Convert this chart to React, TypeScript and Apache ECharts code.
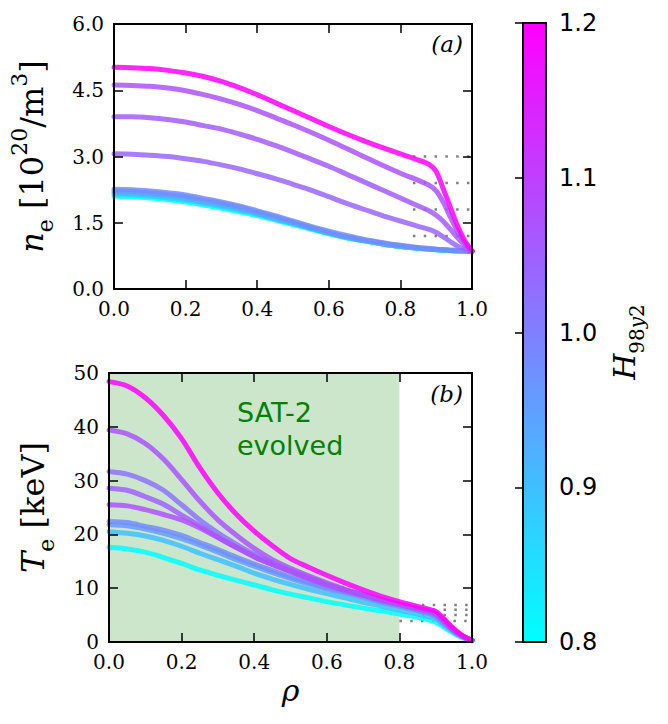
import React, { useEffect, useRef } from "react";
import * as echarts from "echarts";

// radial grid (rho) shared by all profiles
const RHO = [0, 0.05, 0.1, 0.15, 0.2, 0.25, 0.3, 0.35, 0.4, 0.45, 0.5, 0.55, 0.6, 0.65, 0.7, 0.75, 0.8, 0.85, 0.88, 0.9, 0.92, 0.94, 0.96, 0.98, 1.0];

// electron density profiles [10^20 / m^3]
const NE_A = [5.02, 5.01, 4.99, 4.95, 4.89, 4.81, 4.70, 4.56, 4.40, 4.22, 4.04, 3.86, 3.68, 3.51, 3.35, 3.20, 3.06, 2.92, 2.82, 2.66, 2.26, 1.84, 1.42, 1.09, 0.86];
const NE_B = [4.62, 4.61, 4.59, 4.55, 4.49, 4.40, 4.30, 4.18, 4.04, 3.88, 3.72, 3.55, 3.37, 3.18, 2.99, 2.80, 2.62, 2.46, 2.35, 2.22, 1.96, 1.62, 1.30, 1.04, 0.86];
const NE_C = [3.90, 3.90, 3.88, 3.84, 3.78, 3.70, 3.62, 3.51, 3.39, 3.25, 3.10, 2.94, 2.78, 2.60, 2.42, 2.24, 2.06, 1.88, 1.77, 1.67, 1.53, 1.35, 1.16, 0.99, 0.86];
const NE_D = [3.06, 3.05, 3.03, 3.00, 2.95, 2.89, 2.81, 2.72, 2.61, 2.50, 2.37, 2.24, 2.09, 1.94, 1.80, 1.66, 1.54, 1.42, 1.35, 1.28, 1.18, 1.07, 0.97, 0.90, 0.86];
const NE_E = [2.26, 2.25, 2.22, 2.18, 2.13, 2.05, 1.97, 1.88, 1.77, 1.66, 1.54, 1.42, 1.31, 1.21, 1.12, 1.05, 0.99, 0.94, 0.92, 0.90, 0.89, 0.88, 0.87, 0.86, 0.85];
const NE_F = [2.22, 2.21, 2.18, 2.14, 2.09, 2.01, 1.94, 1.85, 1.74, 1.63, 1.51, 1.39, 1.28, 1.18, 1.10, 1.04, 0.98, 0.93, 0.91, 0.90, 0.89, 0.88, 0.87, 0.86, 0.85];
const NE_G = [2.18, 2.17, 2.14, 2.10, 2.05, 1.97, 1.90, 1.81, 1.71, 1.60, 1.49, 1.38, 1.27, 1.17, 1.09, 1.02, 0.96, 0.92, 0.90, 0.89, 0.88, 0.87, 0.86, 0.86, 0.85];
const NE_H = [2.14, 2.13, 2.10, 2.06, 2.01, 1.94, 1.87, 1.78, 1.69, 1.58, 1.48, 1.37, 1.26, 1.16, 1.09, 1.02, 0.96, 0.92, 0.90, 0.89, 0.88, 0.87, 0.86, 0.86, 0.85];
const NE_I = [2.10, 2.09, 2.06, 2.02, 1.97, 1.90, 1.83, 1.75, 1.66, 1.56, 1.46, 1.35, 1.25, 1.16, 1.09, 1.02, 0.96, 0.92, 0.90, 0.89, 0.88, 0.87, 0.86, 0.86, 0.85];
const NE_PROFILES = [NE_A, NE_B, NE_C, NE_D, NE_E, NE_F, NE_G, NE_H, NE_I];
const NE_H98 = [1.2, 1.07, 1.055, 1.04, 0.98, 0.95, 0.92, 0.87, 0.8];

// electron temperature profiles [keV]
const TE_A = [48.4, 47.6, 45.4, 42.1, 37.8, 32.4, 27.7, 23.8, 20.6, 17.9, 15.5, 13.9, 12.4, 11.0, 9.7, 8.5, 7.5, 6.6, 6.1, 5.7, 4.5, 3.1, 1.9, 0.9, 0.3];
const TE_B = [39.4, 38.7, 36.9, 34.0, 30.2, 26.2, 22.7, 19.9, 17.4, 15.3, 13.7, 12.3, 11.0, 9.8, 8.8, 7.9, 7.0, 6.2, 5.8, 5.3, 4.2, 2.9, 1.7, 0.9, 0.3];
const TE_C = [31.7, 31.2, 30.0, 28.2, 25.5, 22.7, 20.3, 18.2, 16.3, 14.7, 13.3, 12.0, 10.7, 9.7, 8.8, 7.8, 7.0, 6.2, 5.8, 5.2, 4.1, 2.8, 1.7, 0.9, 0.3];
const TE_D = [28.6, 28.2, 27.0, 25.6, 23.6, 21.6, 19.5, 17.6, 15.8, 14.4, 13.1, 11.8, 10.6, 9.6, 8.7, 7.8, 7.0, 6.2, 5.7, 5.2, 4.1, 2.8, 1.7, 0.9, 0.3];
const TE_E = [25.5, 25.3, 24.6, 23.7, 22.7, 21.2, 19.4, 17.6, 15.9, 14.4, 13.1, 11.8, 10.6, 9.6, 8.7, 7.8, 7.0, 6.2, 5.7, 5.2, 4.0, 2.7, 1.6, 0.9, 0.3];
const TE_F = [22.4, 22.2, 21.5, 20.8, 19.8, 18.5, 17.2, 15.8, 14.5, 13.3, 12.1, 11.1, 10.1, 9.3, 8.5, 7.6, 6.8, 5.9, 5.4, 4.8, 3.7, 2.6, 1.6, 0.9, 0.3];
const TE_G = [21.8, 21.6, 21.0, 20.2, 19.2, 18.0, 16.7, 15.3, 14.1, 12.9, 11.8, 10.8, 9.9, 9.1, 8.3, 7.4, 6.6, 5.8, 5.3, 4.7, 3.6, 2.5, 1.5, 0.8, 0.3];
const TE_H = [20.5, 20.2, 19.7, 18.9, 17.8, 16.5, 15.3, 14.1, 12.8, 11.7, 10.7, 9.8, 9.0, 8.2, 7.4, 6.7, 5.9, 5.2, 4.7, 4.3, 3.3, 2.3, 1.4, 0.7, 0.2];
const TE_I = [17.6, 17.3, 16.7, 15.7, 14.6, 13.4, 12.4, 11.5, 10.6, 9.7, 8.9, 8.2, 7.5, 6.9, 6.3, 5.8, 5.2, 4.6, 4.1, 3.7, 2.9, 2.0, 1.2, 0.6, 0.2];
const TE_PROFILES = [TE_A, TE_B, TE_C, TE_D, TE_E, TE_F, TE_G, TE_H, TE_I];
const TE_H98 = [1.2, 1.07, 1.02, 1.05, 1.075, 0.98, 0.955, 0.9, 0.8];

// pedestal reference levels (dotted)
const NE_PED_LEVELS = [3.0, 2.4, 1.8, 1.2];
const NE_PED_START = [0.835, 0.835, 0.835, 0.835];
const TE_PED_LEVELS = [6.9, 6.0, 5.0, 3.9];
const TE_PED_START = [0.862, 0.862, 0.862, 0.8];

// axes
const NE_RANGE = [0, 6];
const NE_STEP = 1.5;
const TE_RANGE = [0, 50];
const TE_STEP = 10;
const H_RANGE = [0.8, 1.2];
const H_STEP = 0.1;
const SAT_EDGE = 0.8;

const SERIF = "DejaVu Serif";
const SANS = "DejaVu Sans";

function cool(h: number): string {
  const t = Math.max(0, Math.min(1, (h - H_RANGE[0]) / (H_RANGE[1] - H_RANGE[0])));
  return `rgb(${Math.round(255 * t)},${Math.round(255 * (1 - t))},255)`;
}

function frameAxes(gridIndex: number, kind: "x" | "y", min: number, max: number, step: number, digits: number, nameCfg?: any) {
  const tick = { show: true, inside: true, length: 9, lineStyle: { color: "#000", width: 1.5 } };
  const line = { show: true, onZero: false, lineStyle: { color: "#000", width: 2 } };
  const main: any = {
    type: "value",
    gridIndex,
    min,
    max,
    interval: step,
    position: kind === "x" ? "bottom" : "left",
    axisLine: line,
    axisTick: tick,
    splitLine: { show: false },
    axisLabel: {
      show: true,
      margin: 10,
      color: "#000",
      fontFamily: SERIF,
      fontSize: 20,
      formatter: (v: number) => v.toFixed(digits),
    },
    z: 10,
    ...(nameCfg || {}),
  };
  const mirror: any = {
    type: "value",
    gridIndex,
    min,
    max,
    interval: step,
    position: kind === "x" ? "top" : "right",
    axisLine: line,
    axisTick: tick,
    splitLine: { show: false },
    axisLabel: { show: false },
    z: 10,
  };
  return [main, mirror];
}

function titleRich(size: number) {
  const s = Math.round(size * 0.68);
  return {
    i: { fontFamily: SERIF, fontStyle: "italic", fontSize: size, lineHeight: size * 1.5, color: "#000" },
    r: { fontFamily: SERIF, fontSize: size, lineHeight: size * 1.5, color: "#000" },
    sup: { fontFamily: SERIF, fontSize: s, lineHeight: size * 0.95, verticalAlign: "top", color: "#000" },
    sub: { fontFamily: SERIF, fontSize: s, lineHeight: size * 0.8, verticalAlign: "bottom", color: "#000" },
    subi: { fontFamily: SERIF, fontStyle: "italic", fontSize: s, lineHeight: size * 0.8, verticalAlign: "bottom", color: "#000" },
  };
}

export default function App() {
  const ref = useRef<HTMLDivElement>(null);

  useEffect(() => {
    if (!ref.current) return;
    const chart = echarts.init(ref.current, undefined, { renderer: "svg" });

    const [x0, x1] = frameAxes(0, "x", 0, 1, 0.2, 1);
    const [y0, y1] = frameAxes(0, "y", NE_RANGE[0], NE_RANGE[1], NE_STEP, 1, {
      name: "{i|n}{sub|e}{r| [10}{sup|20}{r|/m}{sup|3}{r|]}",
      nameLocation: "middle",
      nameRotate: 90,
      nameGap: 58,
      nameTextStyle: { rich: titleRich(32) },
    });
    const [x2, x3] = frameAxes(1, "x", 0, 1, 0.2, 1, {
      name: "{i|ρ}",
      nameLocation: "middle",
      nameGap: 26,
      nameTextStyle: { rich: titleRich(30) },
    });
    const [y2, y3] = frameAxes(1, "y", TE_RANGE[0], TE_RANGE[1], TE_STEP, 0, {
      name: "{i|T}{sub|e}{r| [keV]}",
      nameLocation: "middle",
      nameRotate: 90,
      nameGap: 52,
      nameTextStyle: { rich: titleRich(32) },
    });

    const series: any[] = [];

    // shaded SAT-2 region
    series.push({
      type: "line",
      xAxisIndex: 2,
      yAxisIndex: 2,
      data: [[0, 0], [SAT_EDGE, 0]],
      showSymbol: false,
      lineStyle: { opacity: 0, width: 0 },
      silent: true,
      z: 1,
      markArea: {
        silent: true,
        itemStyle: { color: "rgba(0,128,0,0.2)" },
        data: [[{ coord: [0, TE_RANGE[0]] }, { coord: [SAT_EDGE, TE_RANGE[1]] }]],
      },
    });

    const dotted = (xi: number, yi: number, start: number, level: number) => ({
      type: "line",
      xAxisIndex: xi,
      yAxisIndex: yi,
      data: [[start, level], [1.0, level]],
      showSymbol: false,
      silent: true,
      z: 2,
      lineStyle: { color: "#7f7f7f", width: 2.5, type: [2.5, 8.3], cap: "butt" },
    });
    NE_PED_LEVELS.forEach((lv, i) => series.push(dotted(0, 0, NE_PED_START[i], lv)));
    TE_PED_LEVELS.forEach((lv, i) => series.push(dotted(2, 2, TE_PED_START[i], lv)));

    const profile = (xi: number, yi: number, vals: number[], h: number, z: number) => ({
      type: "line",
      xAxisIndex: xi,
      yAxisIndex: yi,
      data: RHO.map((r, k) => [r, vals[k]]),
      showSymbol: false,
      smooth: 0.3,
      silent: true,
      z,
      lineStyle: { color: cool(h), width: 5, opacity: 0.85, cap: "round", join: "round" },
    });

    const neOrder = NE_PROFILES.map((_, i) => i).sort((a, b) => NE_H98[a] - NE_H98[b]);
    neOrder.forEach((i, k) => series.push(profile(0, 0, NE_PROFILES[i], NE_H98[i], 3 + k * 0.01)));
    const teOrder = TE_PROFILES.map((_, i) => i).sort((a, b) => TE_H98[a] - TE_H98[b]);
    teOrder.forEach((i, k) => series.push(profile(2, 2, TE_PROFILES[i], TE_H98[i], 3 + k * 0.01)));

    const hRich = titleRich(30);

    const option: any = {
      animation: false,
      backgroundColor: "#fff",
      grid: [
        { left: 109, top: 24, width: 363, height: 265 },
        { left: 109, top: 373, width: 363, height: 269 },
        {
          left: 523,
          top: 23,
          width: 23,
          height: 619,
          show: true,
          borderColor: "#000",
          borderWidth: 2,
          backgroundColor: new echarts.graphic.LinearGradient(0, 0, 0, 1, [
            { offset: 0, color: cool(H_RANGE[1]) },
            { offset: 1, color: cool(H_RANGE[0]) },
          ]),
        },
      ],
      xAxis: [
        x0,
        x1,
        x2,
        x3,
        { type: "value", gridIndex: 2, min: 0, max: 1, show: false },
      ],
      yAxis: [
        y0,
        y1,
        y2,
        y3,
        {
          type: "value",
          gridIndex: 2,
          position: "right",
          min: H_RANGE[0],
          max: H_RANGE[1],
          interval: H_STEP,
          axisLine: { show: true, lineStyle: { color: "#000", width: 2 } },
          axisTick: { show: true, inside: true, length: 8, lineStyle: { color: "#000", width: 1.5 } },
          splitLine: { show: false },
          axisLabel: {
            show: true,
            margin: 13,
            color: "#000",
            fontFamily: SANS,
            fontSize: 24,
            formatter: (v: number) => v.toFixed(1),
          },
          z: 10,
        },
      ],
      graphic: [
        {
          type: "text",
          x: 624,
          y: 342,
          rotation: Math.PI / 2,
          z: 50,
          silent: true,
          style: {
            text: "{i|H}{sub|98}{subi|y}{sub|2}",
            rich: hRich,
            align: "center",
            verticalAlign: "middle",
            textAlign: "center",
            textVerticalAlign: "middle",
          },
        },
        {
          type: "text",
          left: 237,
          top: 396,
          z: 50,
          silent: true,
          style: {
            text: "SAT-2\nevolved",
            fill: "#008000",
            font: `27px "${SANS}"`,
            lineHeight: 33,
          },
        },
        {
          type: "text",
          x: 463,
          y: 44,
          z: 50,
          silent: true,
          style: {
            text: "(a)",
            fill: "#000",
            font: `italic 23px "${SERIF}"`,
            textAlign: "right",
            textVerticalAlign: "middle",
          },
        },
        {
          type: "text",
          x: 463,
          y: 394,
          z: 50,
          silent: true,
          style: {
            text: "(b)",
            fill: "#000",
            font: `italic 23px "${SERIF}"`,
            textAlign: "right",
            textVerticalAlign: "middle",
          },
        },
      ],
      series,
    };

    chart.setOption(option);
    return () => chart.dispose();
  }, []);

  return (
    <div
      ref={ref}
      style={{ position: "absolute", left: 0, top: 0, width: 668, height: 724, background: "#fff" }}
    />
  );
}
